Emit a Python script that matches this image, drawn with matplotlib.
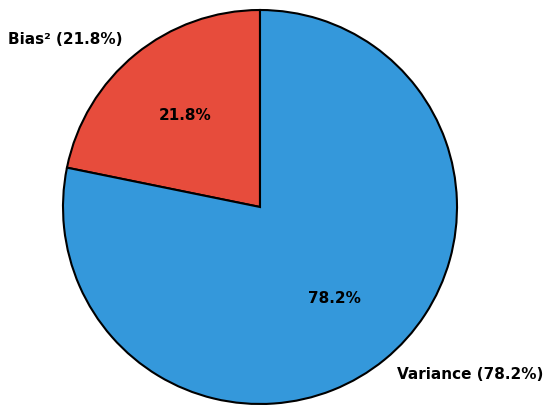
import matplotlib.pyplot as plt

# bias-variance decomposition
labels = ['Bias² (21.8%)', 'Variance (78.2%)']
values = [21.8, 78.2]
colors = ['#e74c3c', '#3498db']

W, H = 550, 413
fig = plt.figure(figsize=(W / 100, H / 100), dpi=100)

# place the pie: center at (260, 207) px from top-left, radius ~197 px
r = 197
cx, cy = 260, H - 207
span = 2.5 * r
ax = fig.add_axes([(cx - span / 2) / W, (cy - span / 2) / H, span / W, span / H])

wedges, texts, autotexts = ax.pie(
    values,
    labels=labels,
    colors=colors,
    autopct='%1.1f%%',
    startangle=90,
    wedgeprops=dict(edgecolor='black', linewidth=1.5),
    textprops=dict(fontsize=11, fontweight='bold'),
)
ax.set_xlim(-1.25, 1.25)
ax.set_ylim(-1.25, 1.25)
ax.set_aspect('auto')

fig.savefig('out.png', dpi=100)
